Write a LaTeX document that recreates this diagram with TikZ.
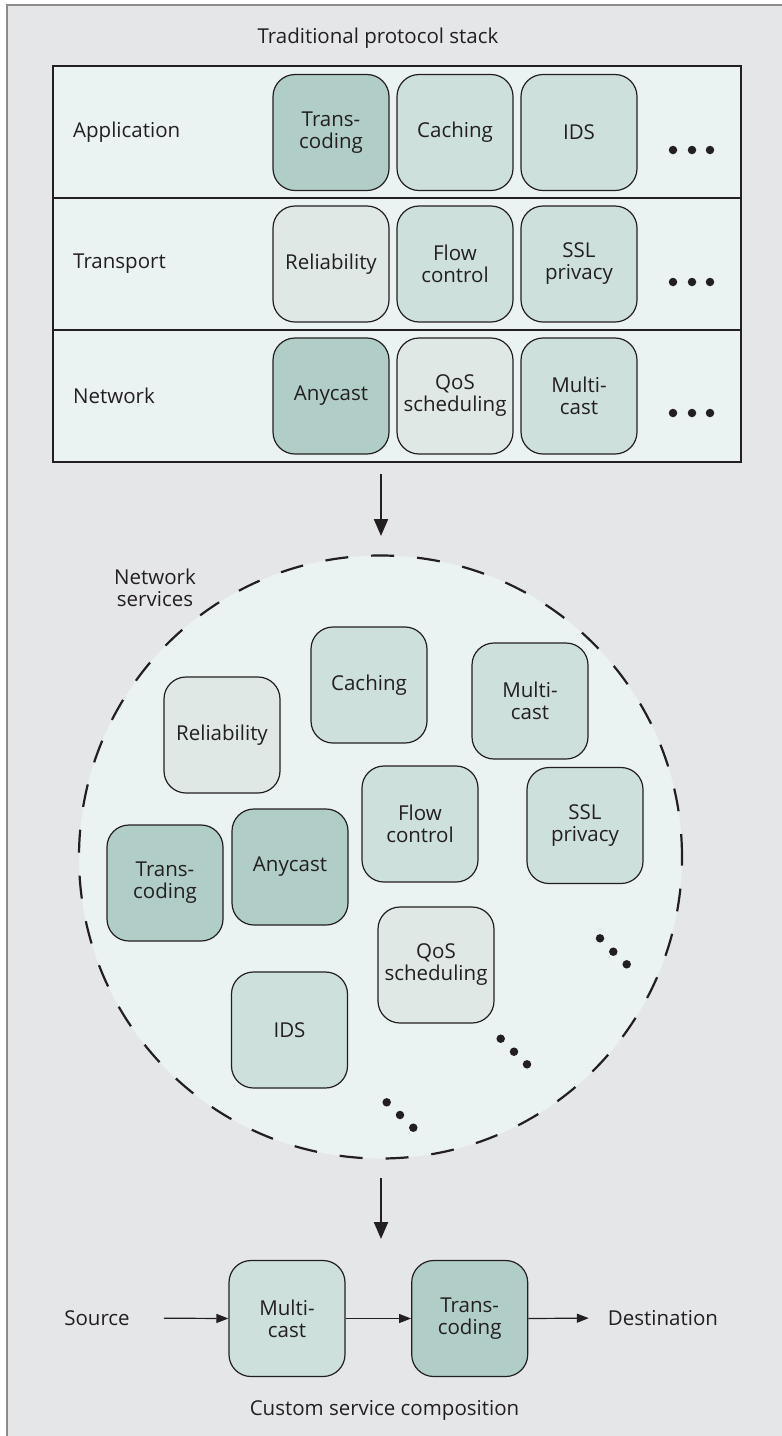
\documentclass[tikz,border=0pt]{standalone}
\usepackage{fontspec}
\setmainfont{Open Sans}
\usetikzlibrary{arrows.meta}

\definecolor{bggray}{HTML}{E5E6E8}
\definecolor{framegray}{HTML}{8C8C8C}
\definecolor{pale}{HTML}{EBF2F2}
\definecolor{darkbox}{HTML}{B1CDC8}
\definecolor{midbox}{HTML}{CDE0DC}
\definecolor{lightbox}{HTML}{DFE8E5}
\definecolor{ink}{HTML}{231F20}

\tikzset{
  svc/.style={draw=ink, line width=1.2pt, rounded corners=22pt,
    minimum width=116pt, minimum height=116pt, inner sep=0pt,
    align=center, text=ink, font=\fontsize{20.5}{22}\selectfont},
  dk/.style={svc, fill=darkbox},
  md/.style={svc, fill=midbox},
  lt/.style={svc, fill=lightbox},
  lbl/.style={text=ink, inner sep=0pt, align=center, font=\fontsize{20.5}{22}\selectfont},
  dotmark/.style={fill=ink, draw=none, circle, minimum size=8.5pt, inner sep=0pt},
  bigarrow/.style={draw=ink, line width=2.2pt, -{Triangle[length=17pt,width=14pt]}},
  flowarrow/.style={draw=ink, line width=1.2pt, -{Triangle[length=12pt,width=9pt]}},
}

\begin{document}
\begin{tikzpicture}[x=1pt, y=-1pt]
  % page and framed panel
  \fill[white] (0,0) rectangle (782,1436);
  \useasboundingbox (0,0) rectangle (782,1436);
  \fill[bggray] (7,5) rectangle (782,1436);
  \draw[framegray, line width=1.5pt] (7,1436) -- (7,5) -- (782,5);

  % ---------- traditional protocol stack ----------
  \node[lbl] (title) at (378,38) {Traditional protocol stack};
  \node[draw=ink, fill=pale, line width=1.3pt, minimum width=688pt,
        minimum height=396pt, inner sep=0pt] (stack) at (397,264) {};
  \draw[ink, line width=1.3pt] (53,198) -- (741,198);
  \draw[ink, line width=1.3pt] (53,330) -- (741,330);

  \node[lbl, anchor=west] (lapp) at (73,132) {Application};
  \node[lbl, anchor=west] (ltra) at (73,264) {Transport};
  \node[lbl, anchor=west] (lnet) at (73,396) {Network};

  \node[dk] (a1) at (331,132.5) {Trans-\\coding};
  \node[md] (a2) at (455,132.5) {Caching};
  \node[md] (a3) at (579,132.5) {IDS};

  \node[lt] (t1) at (331,264) {Reliability};
  \node[md] (t2) at (455,264) {Flow\\control};
  \node[md] (t3) at (579,264) {SSL\\privacy};

  \node[dk] (n1) at (331,396) {Anycast};
  \node[lt] (n2) at (455,396) {QoS\\scheduling};
  \node[md] (n3) at (579,396) {Multi-\\cast};

  \foreach \r/\yy in {a/150, t/282, n/413}{
    \foreach \k/\xx in {1/673, 2/692, 3/710}{
      \node[dotmark] (d\r\k) at (\xx,\yy) {};
    }
  }

  % ---------- pool of network services ----------
  \coordinate (arrA) at (381,474);
  \coordinate (arrB) at (381,536);
  \draw[bigarrow] (arrA) -- (arrB);

  \node[circle, draw=ink, fill=pale, line width=2.2pt, minimum size=603pt,
        inner sep=0pt, dash pattern=on 23pt off 23pt] (pool) at (380.5,857) {};
  \node[lbl] (poollbl) at (155,588) {Network\\services};

  \node[md] (p1) at (369,685) {Caching};
  \node[md] (p2) at (530,701) {Multi-\\cast};
  \node[lt] (p3) at (222,735) {Reliability};
  \node[md] (p4) at (420,824) {Flow\\control};
  \node[md] (p5) at (585,825.5) {SSL\\privacy};
  \node[dk] (p6) at (165,883) {Trans-\\coding};
  \node[dk] (p7) at (290,867) {Anycast};
  \node[lt] (p8) at (436,965) {QoS\\scheduling};
  \node[md] (p9) at (289.5,1030) {IDS};

  \node[dotmark] (e11) at (600,938.3) {};
  \node[dotmark] (e12) at (613.3,951.7) {};
  \node[dotmark] (e13) at (626.7,964.3) {};
  \node[dotmark] (e21) at (500.7,1038.7) {};
  \node[dotmark] (e22) at (514,1051.7) {};
  \node[dotmark] (e23) at (527,1064.3) {};
  \node[dotmark] (e31) at (386.7,1102.3) {};
  \node[dotmark] (e32) at (400,1115) {};
  \node[dotmark] (e33) at (413.3,1127.7) {};

  % ---------- custom service composition ----------
  \coordinate (arrC) at (381,1178);
  \coordinate (arrD) at (381,1239);
  \draw[bigarrow] (arrC) -- (arrD);

  \node[lbl] (src) at (97,1318) {Source};
  \node[md] (c1) at (287,1318.5) {Multi-\\cast};
  \node[dk] (c2) at (469.7,1318.5) {Trans-\\coding};
  \node[lbl] (dst) at (663,1318) {Destination};
  \node[lbl] (complbl) at (384.5,1410) {Custom service composition};

  \draw[flowarrow, shorten <=34pt] (src.east) -- (c1.west);
  \draw[flowarrow] (c1.east) -- (c2.west);
  \draw[flowarrow, shorten >=19pt] (c2.east) -- (dst.west);
\end{tikzpicture}
\end{document}
